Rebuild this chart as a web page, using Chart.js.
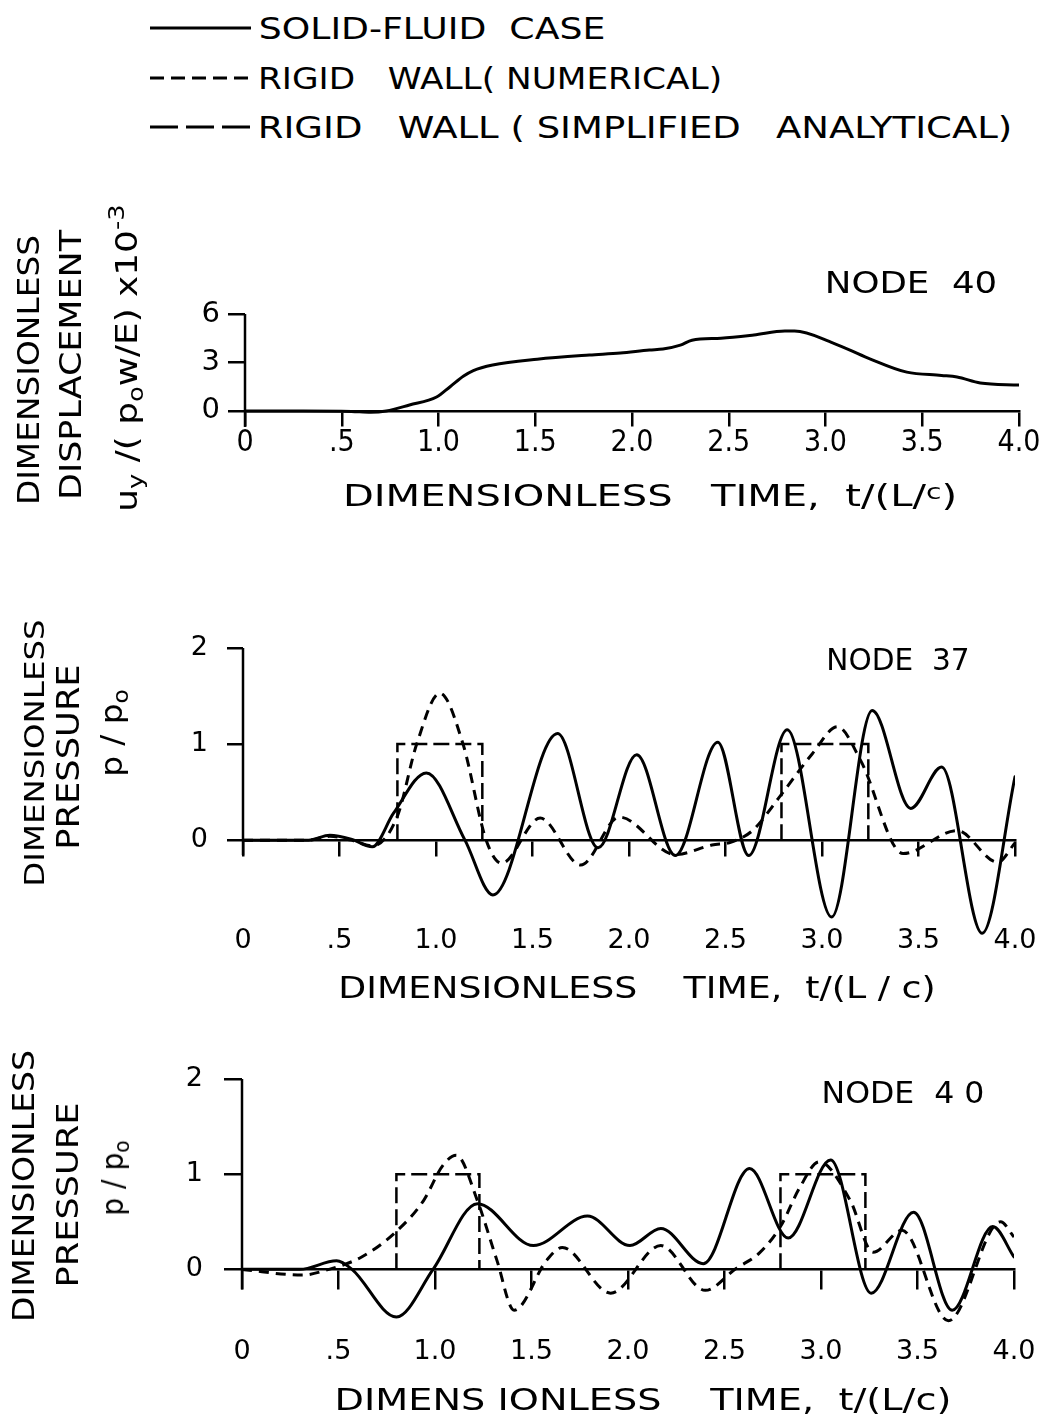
<!DOCTYPE html>
<html><head><meta charset="utf-8">
<script src="https://cdn.jsdelivr.net/npm/chart.js@4.4.1/dist/chart.umd.min.js"></script>
<style>
html,body{margin:0;padding:0;background:#fff;}
body{width:1053px;height:1419px;position:relative;overflow:hidden;font-family:'DejaVu Sans',sans-serif;color:#000;}
canvas{position:absolute;left:0;}
.t{position:absolute;white-space:nowrap;line-height:1;left:0;top:0;}
.t sub{font-size:0.72em;vertical-align:-0.3em;line-height:0;}
.t sup{font-size:0.72em;vertical-align:0.6em;line-height:0;}
</style></head><body>
<svg style="position:absolute;left:0;top:0" width="260" height="150">
 <line x1="150" y1="28" x2="251" y2="28" stroke="#000" stroke-width="3"/>
 <line x1="150" y1="78" x2="252" y2="78" stroke="#000" stroke-width="3" stroke-dasharray="14 7"/>
 <line x1="150" y1="127" x2="252" y2="127" stroke="#000" stroke-width="3" stroke-dasharray="28 8"/>
</svg>
<canvas id="c1" width="1053" height="300" style="top:200px"></canvas>
<canvas id="c2" width="1053" height="440" style="top:560px"></canvas>
<canvas id="c3" width="1053" height="419" style="top:1000px"></canvas>
<div id="texts"></div>
<script>
// ---------- tick labels ----------
const xTickValues = [0, 0.5, 1, 1.5, 2, 2.5, 3, 3.5, 4];
const xTickLabels = ['0', '.5', '1.0', '1.5', '2.0', '2.5', '3.0', '3.5', '4.0'];
const dispTickValues = [0, 3, 6];
const dispTickLabels = ['0', '3', '6'];
const presTickValues = [0, 1, 2];
const presTickLabels = ['0', '1', '2'];

// ---------- Panel 1: displacement, node 40 (solid-fluid) ----------
const n40DispT = [0, 0.3, 0.55, 0.65, 0.73, 0.85, 0.99, 1.06, 1.13, 1.18, 1.28, 1.51, 1.78, 1.94, 2.09, 2.16, 2.25, 2.31, 2.46, 2.63, 2.79, 2.84, 3.04, 3.22, 3.42, 3.6, 3.68, 3.8, 4.0];
const n40DispU = [0, 0, -0.03, -0.08, 0, 0.37, 0.86, 1.5, 2.16, 2.5, 2.84, 3.2, 3.46, 3.58, 3.77, 3.83, 4.07, 4.38, 4.5, 4.7, 4.94, 4.94, 4.2, 3.27, 2.4, 2.2, 2.1, 1.73, 1.6];

// ---------- Panel 2: pressure, node 37 ----------
const n37SolidT = [0, 0.34, 0.45, 0.56, 0.67, 0.78, 0.95, 1.15, 1.295, 1.63, 1.84, 2.04, 2.24, 2.46, 2.62, 2.82, 3.05, 3.26, 3.46, 3.62, 3.83, 4.0];
const n37SolidP = [0, 0, 0.05, 0.01, -0.07, 0.28, 0.70, 0, -0.57, 1.11, -0.08, 0.89, -0.16, 1.02, -0.16, 1.15, -0.80, 1.35, 0.33, 0.76, -0.97, 0.66];
const n37NumT = [0, 0.34, 0.45, 0.56, 0.67, 0.8, 0.9, 1.02, 1.14, 1.26, 1.34, 1.54, 1.75, 1.95, 2.24, 2.43, 2.53, 2.64, 2.78, 2.95, 3.08, 3.2, 3.42, 3.70, 3.91, 4.0];
const n37NumP = [0, 0, 0.04, 0.0, -0.06, 0.25, 1.0, 1.53, 1.0, 0, -0.24, 0.23, -0.26, 0.24, -0.15, -0.05, -0.02, 0.1, 0.45, 0.9, 1.18, 0.83, -0.14, 0.10, -0.23, -0.03];
const n37AnaT = [0.80, 0.80, 1.24, 1.24, 2.0, 2.79, 2.79, 3.24, 3.24];
const n37AnaP = [0, 1, 1, 0, null, 0, 1, 1, 0];

// ---------- Panel 3: pressure, node 40 ----------
const n40SolidT = [0, 0.3, 0.49, 0.57, 0.80, 0.99, 1.22, 1.51, 1.79, 2.01, 2.17, 2.39, 2.63, 2.83, 3.05, 3.26, 3.48, 3.68, 3.89, 4.0];
const n40SolidP = [0, 0, 0.09, 0, -0.5, 0, 0.69, 0.25, 0.56, 0.25, 0.43, 0.06, 1.06, 0.33, 1.15, -0.25, 0.6, -0.43, 0.45, 0.13];
const n40NumT = [0, 0.31, 0.45, 0.62, 0.79, 0.94, 1.04, 1.11, 1.22, 1.32, 1.41, 1.58, 1.66, 1.91, 2.17, 2.4, 2.56, 2.68, 2.79, 2.89, 2.99, 3.15, 3.27, 3.42, 3.66, 3.93, 4.0];
const n40NumP = [0, -0.06, 0, 0.13, 0.38, 0.72, 1.09, 1.2, 0.72, 0.1, -0.43, 0.1, 0.23, -0.25, 0.25, -0.22, 0.01, 0.17, 0.45, 0.86, 1.13, 0.73, 0.18, 0.41, -0.54, 0.5, 0.34];
const n40AnaT = [0.80, 0.80, 1.23, 1.23, 2.0, 2.79, 2.79, 3.23, 3.23];
const n40AnaP = [0, 1, 1, 0, null, 0, 1, 1, 0];

// ---------- helpers ----------
const pts = (xs, ys) => xs.map((x, i) => ({x: x, y: ys[i]}));
const NORMAL = "'DejaVu Sans', sans-serif";
const NARROW = "'Liberation Sans Narrow', 'DejaVu Sans Condensed', 'DejaVu Sans', sans-serif";

const yAxisLine = {
  id: 'yAxisLine',
  afterDraw(chart, args, opts) {
    const {ctx, chartArea} = chart;
    const ys = chart.scales.y;
    ctx.save();
    ctx.strokeStyle = '#000';
    ctx.lineWidth = opts.width || 2.5;
    ctx.beginPath();
    ctx.moveTo(chartArea.left, ys.getPixelForValue(opts.top));
    ctx.lineTo(chartArea.left, ys.getPixelForValue(0) + opts.below);
    ctx.stroke();
    ctx.restore();
  }
};

function solid(data) {
  return {data, borderColor: '#000', borderWidth: 3, pointRadius: 0, fill: false,
    cubicInterpolationMode: 'monotone', borderCapStyle: 'round', borderJoinStyle: 'round'};
}
function numerical(data) {
  return {data, borderColor: '#000', borderWidth: 3, pointRadius: 0, fill: false,
    borderDash: [10, 7], cubicInterpolationMode: 'monotone'};
}
function analytical(data) {
  return {data, borderColor: '#000', borderWidth: 2.5, pointRadius: 0, fill: false,
    borderDash: [16, 6], tension: 0, spanGaps: false};
}

function makeChart(id, datasets, cfg) {
  return new Chart(document.getElementById(id), {
    type: 'line',
    data: {datasets},
    plugins: [yAxisLine],
    options: {
      responsive: false, animation: false, devicePixelRatio: 1,
      layout: {padding: cfg.padding},
      plugins: {legend: {display: false}, tooltip: {enabled: false},
        yAxisLine: {top: cfg.yTop, below: cfg.yBelow, width: 2.5}},
      scales: {
        x: {
          type: 'linear', min: 0, max: 4, position: {y: 0},
          afterBuildTicks: s => { s.ticks = xTickValues.map(v => ({value: v})); },
          afterFit: s => { s.paddingLeft = 0; s.paddingRight = 0; },
          ticks: {autoSkip: false, maxRotation: 0, minRotation: 0, color: '#000',
            padding: cfg.xPad, font: {family: cfg.xFont, size: cfg.xSize},
            callback: (v, i) => xTickLabels[i]},
          grid: {display: true, drawOnChartArea: false, drawTicks: true,
            tickLength: cfg.xTick, color: '#000', lineWidth: 2.5},
          border: {display: true, color: '#000', width: 2.5}
        },
        y: {
          type: 'linear', min: cfg.yMin, max: cfg.yMax, position: 'left',
          afterFit: s => { s.width = 60; s.paddingTop = 0; s.paddingBottom = 0; },
          afterBuildTicks: s => { s.ticks = cfg.yVals.map(v => ({value: v})); },
          ticks: {autoSkip: false, color: '#000', padding: cfg.yPad,
            font: {family: cfg.yFont, size: cfg.ySize},
            callback: (v, i) => cfg.yLabels[i]},
          grid: {display: true, drawOnChartArea: false, drawTicks: true,
            tickLength: cfg.yTick, color: '#000', lineWidth: 2.5},
          border: {display: false}
        }
      }
    }
  });
}

makeChart('c1', [solid(pts(n40DispT, n40DispU))], {
  padding: {left: 185, right: 34, top: 114, bottom: 81},
  yMin: -0.5, yMax: 6, yVals: dispTickValues, yLabels: dispTickLabels,
  yTop: 6, yBelow: 16, xPad: 0, xTick: 14, xFont: NARROW, xSize: 30,
  yPad: 8, yTick: 17, yFont: NORMAL, ySize: 29
});
makeChart('c2', [solid(pts(n37SolidT, n37SolidP)), numerical(pts(n37NumT, n37NumP)), analytical(pts(n37AnaT, n37AnaP))], {
  padding: {left: 183, right: 38, top: 88, bottom: 59},
  yMin: -1.05, yMax: 2, yVals: presTickValues, yLabels: presTickLabels,
  yTop: 2, yBelow: 15, xPad: 70, xTick: 15, xFont: NORMAL, xSize: 27,
  yPad: 19, yTick: 16, yFont: NORMAL, ySize: 27
});
makeChart('c3', [solid(pts(n40SolidT, n40SolidP)), numerical(pts(n40NumT, n40NumP)), analytical(pts(n40AnaT, n40AnaP))], {
  padding: {left: 182, right: 39, top: 79, bottom: 83},
  yMin: -0.7, yMax: 2, yVals: presTickValues, yLabels: presTickLabels,
  yTop: 2, yBelow: 20, xPad: 47, xTick: 19, xFont: NORMAL, xSize: 27,
  yPad: 21, yTick: 18, yFont: NORMAL, ySize: 27
});

// ---------- text labels (HTML) ----------
const texts = [
  {h: 'SOLID-FLUID&nbsp; CASE', left: 258, cy: 28, w: 347, s: 31},
  {h: 'RIGID&nbsp;&nbsp; WALL(&nbsp;NUMERICAL)', left: 258, cy: 78, w: 464, s: 31},
  {h: 'RIGID&nbsp;&nbsp; WALL ( SIMPLIFIED&nbsp;&nbsp; ANALYTICAL)', left: 258, cy: 127, w: 754, s: 31},
  {h: 'NODE&nbsp; 40', cx: 911, cy: 283, w: 172, s: 30},
  {h: 'DIMENSIONLESS&nbsp;&nbsp; TIME,&nbsp; t/(L/<span style="font-size:0.7em;vertical-align:0.3em">c</span>)', cx: 650, cy: 495, w: 614, s: 31},
  {h: 'DIMENSIONLESS', cx: 28, cy: 370, w: 270, s: 31, r: -90},
  {h: 'DISPLACEMENT', cx: 71, cy: 365, w: 270, s: 30, r: -90},
  {h: 'u<sub>y</sub>&nbsp;/(&nbsp;p<sub>o</sub>w/E)&nbsp;x10<sup>-3</sup>', cx: 127, cy: 358, w: 307, s: 30, r: -90},
  {h: 'NODE&nbsp; 37', cx: 898, cy: 660, w: 143, s: 30},
  {h: 'DIMENSIONLESS&nbsp;&nbsp;&nbsp; TIME,&nbsp; t/(L&nbsp;/&nbsp;c)', cx: 637, cy: 988, w: 597, s: 30},
  {h: 'DIMENSIONLESS', cx: 34, cy: 753, w: 267, s: 27, r: -90},
  {h: 'PRESSURE', cx: 68, cy: 757, w: 185, s: 32, r: -90},
  {h: 'p&nbsp;/&nbsp;p<sub>o</sub>', cx: 112, cy: 733, w: 87, s: 30, r: -90},
  {h: 'NODE&nbsp; 4 0', cx: 903, cy: 1093, w: 163, s: 30},
  {h: 'DIMENS IONLESS&nbsp;&nbsp;&nbsp; TIME,&nbsp; t/(L/c)', cx: 643, cy: 1400, w: 617, s: 30},
  {h: 'DIMENSIONLESS', cx: 24, cy: 1186, w: 272, s: 30, r: -90},
  {h: 'PRESSURE', cx: 67, cy: 1195, w: 185, s: 31, r: -90},
  {h: 'p&nbsp;/&nbsp;p<sub>o</sub>', cx: 113, cy: 1178, w: 75, s: 30, r: -90}
];
const holder = document.getElementById('texts');
texts.forEach(t => {
  const d = document.createElement('div');
  d.className = 't';
  d.style.fontSize = t.s + 'px';
  d.innerHTML = t.h;
  holder.appendChild(d);
  const ow = d.offsetWidth;
  const sc = t.w / ow;
  const cx = (t.cx !== undefined) ? t.cx : t.left + t.w / 2;
  d.style.left = cx + 'px';
  d.style.top = t.cy + 'px';
  d.style.transform = 'translate(-50%,-50%) rotate(' + (t.r || 0) + 'deg) scaleX(' + sc.toFixed(4) + ')';
});
</script>
</body></html>
